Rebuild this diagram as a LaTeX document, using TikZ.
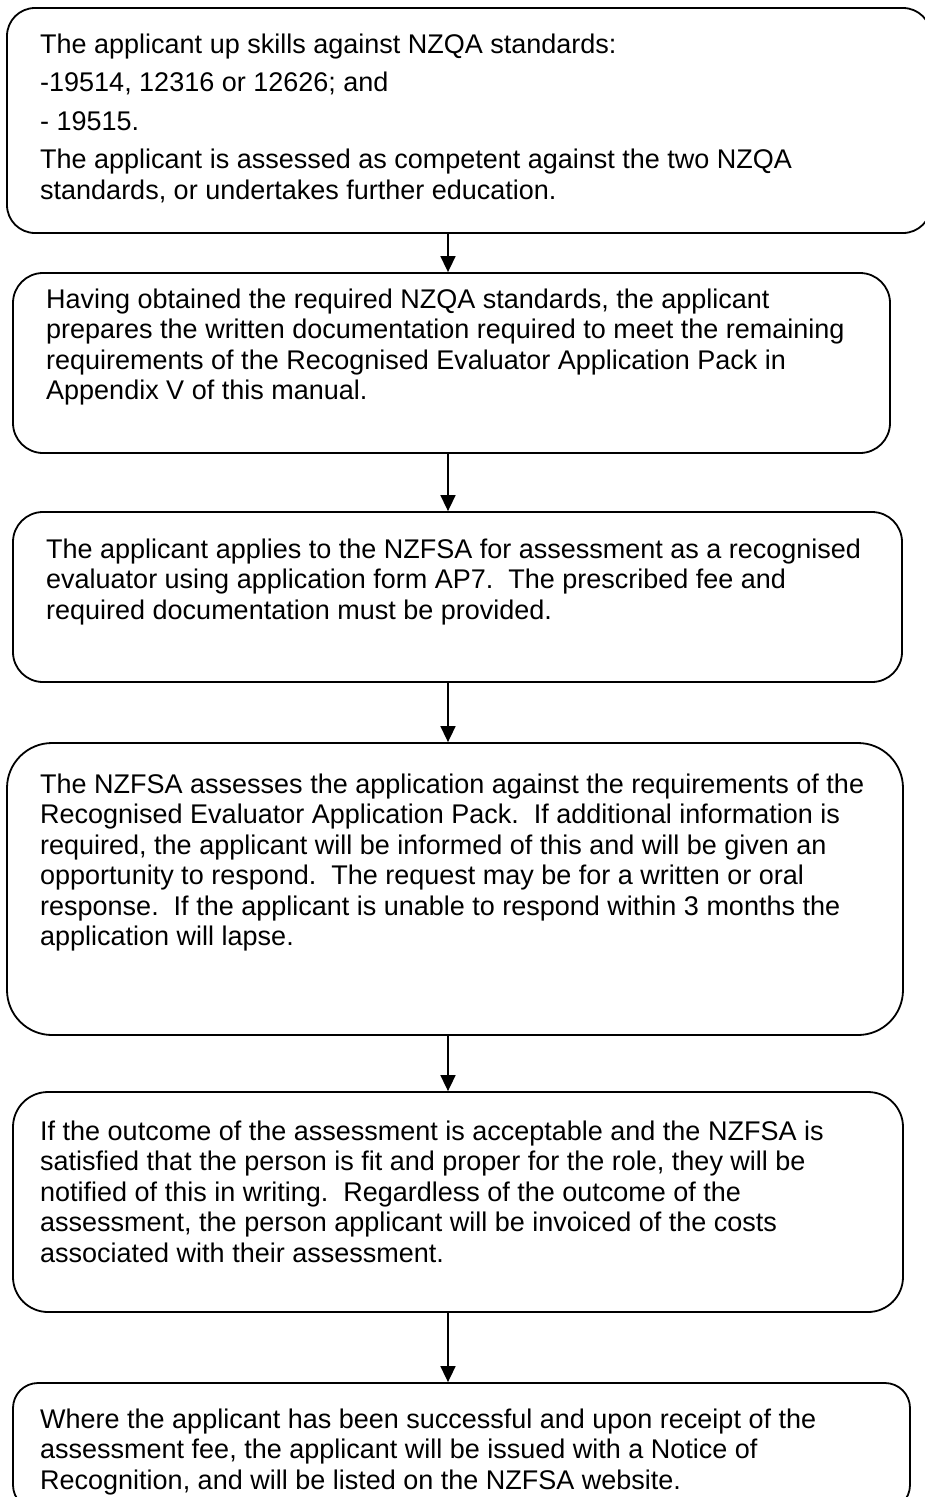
\documentclass[tikz,border=0pt]{standalone}
\usepackage{fontspec}
\setmainfont{Liberation Sans}
\usetikzlibrary{arrows.meta}
\tikzset{
  flowbox/.style={draw=black, line width=1.8pt, rectangle, inner sep=0pt, fill=none},
  flowtext/.style={anchor=base west, inner sep=0pt, font=\fontsize{27pt}{30.5pt}\selectfont},
  flowarrow/.style={draw=black, line width=1.6pt, -{Triangle[length=16pt,width=15pt]}}
}
\newcommand{\boxlines}[1]{\parbox[t]{880pt}{\raggedright\frenchspacing #1}}
\begin{document}
\begin{tikzpicture}[x=1pt,y=-1pt]
\useasboundingbox (0,0) rectangle (925,1497);
\fill[white] (0,0) rectangle (925,1497);

% boxes
\node[flowbox, rounded corners=28pt, minimum width=924pt, minimum height=225pt] (b1) at (469,120.5) {};
\node[flowbox, rounded corners=30pt, minimum width=877pt, minimum height=180pt] (b2) at (451.5,363) {};
\node[flowbox, rounded corners=30pt, minimum width=889pt, minimum height=170pt] (b3) at (457.5,597) {};
\node[flowbox, rounded corners=45pt, minimum width=896pt, minimum height=292pt] (b4) at (455,889) {};
\node[flowbox, rounded corners=35pt, minimum width=890pt, minimum height=220pt] (b5) at (458,1202) {};
\node[flowbox, rounded corners=25pt, minimum width=897pt, minimum height=127pt] (b6) at (461.5,1446.5) {};

% texts
\node[flowtext] (t1) at (40,53) {\boxlines{The applicant up skills against NZQA standards:\\[8pt]
-19514, 12316 or 12626; and\\[8pt]
- 19515.\\[8pt]
The applicant is assessed as competent against the two NZQA\\
standards, or undertakes further education.}};

\node[flowtext] (t2) at (46,308) {\boxlines{Having obtained the required NZQA standards, the applicant\\
prepares the written documentation required to meet the remaining\\
requirements of the Recognised Evaluator Application Pack in\\
Appendix V of this manual.}};

\node[flowtext] (t3) at (46,558) {\boxlines{The applicant applies to the NZFSA for assessment as a recognised\\
evaluator using application form AP7.\ \ The prescribed fee and\\
required documentation must be provided.}};

\node[flowtext] (t4) at (40,793) {\boxlines{The NZFSA assesses the application against the requirements of the\\
Recognised Evaluator Application Pack.\ \ If additional information is\\
required, the applicant will be informed of this and will be given an\\
opportunity to respond.\ \ The request may be for a written or oral\\
response.\ \ If the applicant is unable to respond within 3 months the\\
application will lapse.}};

\node[flowtext] (t5) at (40,1140) {\boxlines{If the outcome of the assessment is acceptable and the NZFSA is\\
satisfied that the person is fit and proper for the role, they will be\\
notified of this in writing.\ \ Regardless of the outcome of the\\
assessment, the person applicant will be invoiced of the costs\\
associated with their assessment.}};

\node[flowtext] (t6) at (40,1428) {\boxlines{Where the applicant has been successful and upon receipt of the\\
assessment fee, the applicant will be issued with a Notice of\\
Recognition, and will be listed on the NZFSA website.}};

% connectors
\coordinate (ax) at (448,0);
\draw[flowarrow] (b1.south -| ax) -- (b2.north -| ax);
\draw[flowarrow] (b2.south -| ax) -- (b3.north -| ax);
\draw[flowarrow] (b3.south -| ax) -- (b4.north -| ax);
\draw[flowarrow] (b4.south -| ax) -- (b5.north -| ax);
\draw[flowarrow] (b5.south -| ax) -- (b6.north -| ax);
\end{tikzpicture}
\end{document}
